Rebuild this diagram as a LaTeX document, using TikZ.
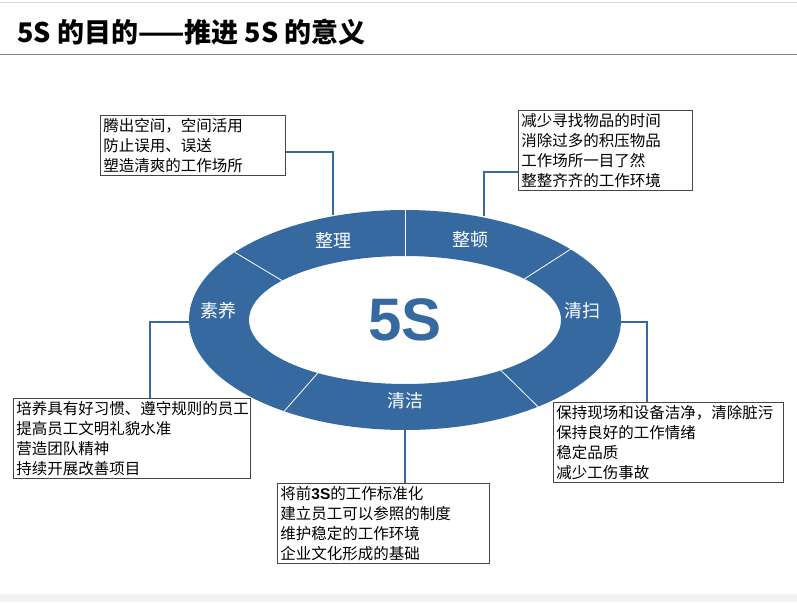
\documentclass[tikz,border=0pt]{standalone}
\usepackage{fontspec}
\usetikzlibrary{calc}
\newfontfamily\cjk{Noto Sans CJK SC}
\newfontfamily\arial{Liberation Sans}
\definecolor{ringblue}{RGB}{54,105,160}
\definecolor{boxline}{RGB}{70,70,70}
\begin{document}
\begin{tikzpicture}[x=1pt,y=-1pt,
  txtbox/.style={draw=boxline,line width=0.8pt,anchor=north west,inner sep=3pt,align=left,font=\cjk\fontsize{15.5}{20}\selectfont,text=black},
  conn/.style={draw=ringblue,line width=2pt},
  ringlbl/.style={text=white,font=\cjk\fontsize{18}{18}\selectfont},
  divider/.style={draw=white,line width=0.8pt}]
\useasboundingbox (0,0) rectangle (797,602);
\fill[white] (0,0) rectangle (797,602);
\draw[gray!30] (0,2) -- (797,2);
\fill[gray!10] (0,594) rectangle (797,602);
\node[anchor=west,font=\cjk\bfseries\fontsize{27}{27}\selectfont] (title) at (14,32) {5S 的目的——推进 5S 的意义};
\draw[gray,line width=1pt] (0,55) -- (797,55);
% ring
\fill[ringblue,even odd rule] (405,320) ellipse [x radius=216,y radius=110] (405,320) ellipse [x radius=156,y radius=64];
\foreach \a in {90,142,236,308,40}{
  \draw[divider] ($(405,320)+({156*cos(\a)},{-64*sin(\a)})$) -- ($(405,320)+({216*cos(\a)},{-110*sin(\a)})$);
}
\node[ringlbl] (zl) at (333,240) {整理};
\node[ringlbl] (zd) at (470,240) {整顿};
\node[ringlbl] (qs) at (582,311) {清扫};
\node[ringlbl] (qj) at (405,401) {清洁};
\node[ringlbl] (sy) at (218,311) {素养};
\node[text=ringblue,font=\arial\bfseries\fontsize{60}{60}\selectfont] (c) at (405,320) {5S};
% boxes
\node[txtbox,text width=179pt] (b1) at (100,115) {腾出空间，空间活用\\防止误用、误送\\塑造清爽的工作场所};
\node[txtbox,text width=168pt] (b2) at (518,110) {减少寻找物品的时间\\消除过多的积压物品\\工作场所一目了然\\整整齐齐的工作环境};
\node[txtbox,text width=224pt] (b3) at (553,402) {保持现场和设备洁净，清除脏污\\保持良好的工作情绪\\稳定品质\\减少工伤事故};
\node[txtbox,text width=206pt] (b4) at (277,483) {将前{\arial\bfseries 3S}的工作标准化\\建立员工可以参照的制度\\维护稳定的工作环境\\企业文化形成的基础};
\node[txtbox,text width=231pt] (b5) at (13,398) {培养具有好习惯、遵守规则的员工\\提高员工文明礼貌水准\\营造团队精神\\持续开展改善项目};
% connectors
\coordinate (r1) at (333,215);
\coordinate (r2) at (484,216);
\coordinate (r3) at (621,322);
\coordinate (r4) at (405,430);
\coordinate (r5) at (189,322);
\draw[conn] (b1.east |- 0,152) -- (333,152) -- (r1);
\draw[conn] (b2.west |- 0,172) -- (484,172) -- (r2);
\draw[conn] (r3) -- (647,322) -- (b3.north -| 647,0);
\draw[conn] (r4) -- (b4.north -| r4);
\draw[conn] (r5) -- (150,322) -- (b5.north -| 150,0);
\end{tikzpicture}
\end{document}
